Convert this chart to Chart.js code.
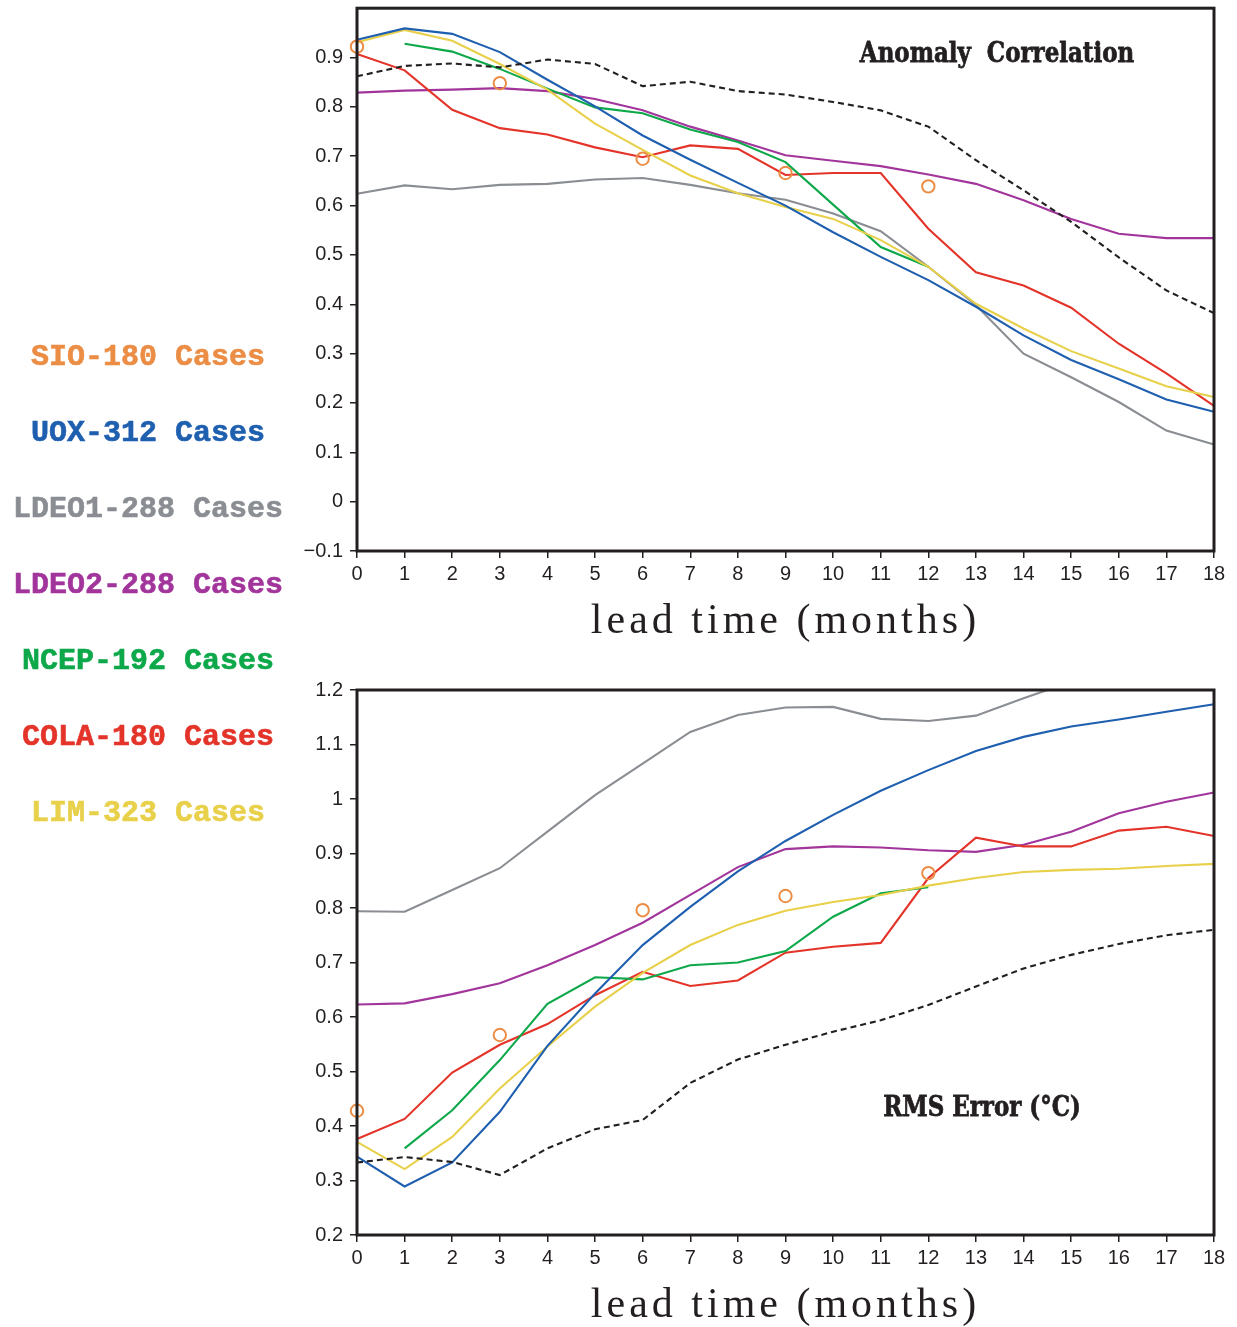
<!DOCTYPE html>
<html><head><meta charset="utf-8">
<script src="https://cdn.jsdelivr.net/npm/chart.js@4/dist/chart.umd.min.js"></script>
<style>
html,body{margin:0;padding:0;background:#fff;}
#wrap{position:relative;width:1237px;height:1327px;overflow:hidden;background:#fff;}
canvas{position:absolute;left:0;}
.leg{position:absolute;left:0;width:296px;text-align:center;font-family:"Liberation Mono",monospace;font-weight:bold;font-size:30px;line-height:36px;white-space:pre;-webkit-text-stroke:0.6px currentColor;}
.xt{position:absolute;left:357px;width:857px;text-align:center;font-family:"Liberation Serif",serif;font-size:42px;letter-spacing:4px;line-height:50px;color:#231f20;white-space:pre;}
.pt{position:absolute;width:400px;text-align:center;font-family:"DejaVu Serif",serif;font-weight:bold;font-size:28px;line-height:34px;transform:scaleX(0.82);transform-origin:center;white-space:pre;color:#231f20;-webkit-text-stroke:0.8px #231f20;}
</style></head>
<body><div id="wrap">
<canvas id="top" width="1237" height="600" style="top:0px;width:1237px;height:600px"></canvas>
<canvas id="bot" width="1237" height="640" style="top:640px;width:1237px;height:640px"></canvas>
<div class="pt" style="left:797px;top:36px">Anomaly  Correlation</div>
<div class="pt" style="left:782px;top:1090px">RMS Error (°C)</div>
<div class="xt" style="top:594px">lead time (months)</div>
<div class="xt" style="top:1278px">lead time (months)</div>
<div id="legend"></div>
</div>
<script>
// ---- data ----
const months = ['0','1','2','3','4','5','6','7','8','9','10','11','12','13','14','15','16','17','18'];
const seriesNames = ['SIO-180 Cases','UOX-312 Cases','LDEO1-288 Cases','LDEO2-288 Cases','NCEP-192 Cases','COLA-180 Cases','LIM-323 Cases'];
const seriesColors = ['#EB8D45','#1F5FAF','#8A8E93','#A2359B','#0DA84A','#E4342A','#E8D04A'];
const persistColor = '#231f20';

const topTicks = [-0.1,0,0.1,0.2,0.3,0.4,0.5,0.6,0.7,0.8,0.9];
const topTickLabels = ['\u22120.1','0','0.1','0.2','0.3','0.4','0.5','0.6','0.7','0.8','0.9'];
const botTicks = [0.2,0.3,0.4,0.5,0.6,0.7,0.8,0.9,1.0,1.1,1.2];
const botTickLabels = ['0.2','0.3','0.4','0.5','0.6','0.7','0.8','0.9','1','1.1','1.2'];

// Anomaly correlation
const acSIO   = [0.922,null,null,0.848,null,null,0.695,null,null,0.666,null,null,0.639,null,null,null,null,null,null];
const acUOX   = [0.936,0.959,0.948,0.911,0.855,0.801,0.742,0.693,0.646,0.600,0.546,0.496,0.449,0.395,0.337,0.287,0.248,0.207,0.182];
const acLDEO1 = [0.624,0.641,0.633,0.642,0.644,0.653,0.656,0.642,0.625,0.612,0.584,0.548,0.476,0.398,0.300,0.252,0.202,0.144,0.116];
const acLDEO2 = [0.829,0.833,0.835,0.838,0.832,0.816,0.793,0.760,0.732,0.702,0.691,0.680,0.663,0.644,0.611,0.573,0.543,0.534,0.534];
const acNCEP  = [null,0.928,0.912,0.877,0.837,0.799,0.787,0.754,0.729,0.688,0.602,0.516,0.476,null,null,null,null,null,null];
const acCOLA  = [0.907,0.874,0.794,0.757,0.744,0.718,0.698,0.722,0.715,0.662,0.666,0.666,0.553,0.465,0.438,0.393,0.320,0.260,0.194];
const acLIM   = [0.931,0.956,0.934,0.887,0.835,0.766,0.713,0.661,0.625,0.597,0.573,0.530,0.476,0.401,0.351,0.305,0.270,0.234,0.212];
const acPersist = [0.862,0.883,0.888,0.880,0.896,0.887,0.842,0.851,0.832,0.825,0.810,0.793,0.760,0.692,0.631,0.567,0.495,0.428,0.382];

// RMS error
const rmsSIO   = [0.428,null,null,0.567,null,null,0.796,null,null,0.822,null,null,0.864,null,null,null,null,null,null];
const rmsUOX   = [0.344,0.289,0.333,0.426,0.547,0.643,0.732,0.802,0.867,0.923,0.971,1.015,1.053,1.088,1.114,1.133,1.146,1.160,1.174];
const rmsLDEO1 = [0.794,0.793,0.833,0.873,0.940,1.007,1.065,1.123,1.154,1.168,1.169,1.147,1.143,1.153,1.185,1.215,null,null,null];
const rmsLDEO2 = [0.623,0.625,0.642,0.662,0.695,0.732,0.773,0.824,0.875,0.908,0.913,0.911,0.906,0.903,0.916,0.940,0.974,0.995,1.012];
const rmsNCEP  = [null,0.359,0.429,0.521,0.624,0.673,0.669,0.695,0.700,0.721,0.784,0.827,0.838,null,null,null,null,null,null];
const rmsCOLA  = [0.376,0.413,0.498,0.549,0.587,0.640,0.683,0.657,0.667,0.718,0.729,0.736,0.855,0.929,0.913,0.913,0.942,0.949,0.932];
const rmsLIM   = [0.371,0.321,0.380,0.469,0.546,0.619,0.681,0.732,0.769,0.795,0.811,0.824,0.841,0.855,0.866,0.870,0.872,0.877,0.881];
const rmsPersist = [0.333,0.343,0.334,0.310,0.359,0.394,0.411,0.479,0.522,0.549,0.573,0.594,0.622,0.656,0.689,0.714,0.734,0.750,0.760];

// ---- legend (HTML text) ----
const legEl = document.getElementById('legend');
seriesNames.forEach((n,i)=>{
  const d = document.createElement('div');
  d.className='leg'; d.textContent=n; d.style.color=seriesColors[i];
  d.style.top = (339 + 76*i) + 'px';
  legEl.appendChild(d);
});

// ---- charts ----
const frame = {
  id:'frame',
  afterDatasetsDraw(chart){
    const {ctx, chartArea:a} = chart;
    ctx.save();
    ctx.strokeStyle='#231f20';
    ctx.lineWidth=3;
    ctx.strokeRect(a.left, a.top, a.right-a.left, a.bottom-a.top);
    ctx.restore();
  }
};

function ln(data, color, extra){
  return Object.assign({data, borderColor:color, backgroundColor:color, borderWidth:2.1, pointRadius:0, tension:0, fill:false, spanGaps:false}, extra||{});
}
function sio(data){
  return {data, showLine:false, pointRadius:6.2, pointHoverRadius:6.2, pointBorderWidth:2,
    pointBorderColor:seriesColors[0], pointBackgroundColor:'rgba(255,255,255,0)', borderColor:seriesColors[0]};
}

function makeChart(id, sets, yMin, yMax, ticks, labels, padTop, xHeight){
  return new Chart(document.getElementById(id), {
    type:'line',
    data:{labels:months, datasets:sets},
    options:{
      responsive:false, animation:false, events:[],
      layout:{padding:{top:padTop, right:23, left:0, bottom:0}},
      plugins:{legend:{display:false}, tooltip:{enabled:false}},
      scales:{
        x:{type:'category', offset:false,
          grid:{drawOnChartArea:false, drawTicks:true, tickLength:7, color:'#231f20', lineWidth:1.5},
          border:{display:false},
          ticks:{autoSkip:false, maxRotation:0, padding:4, color:'#231f20', font:{family:'"Liberation Sans", Arial, sans-serif', size:20}},
          afterFit(s){ s.height = xHeight; s.paddingLeft = 0; s.paddingRight = 0; }
        },
        y:{type:'linear', min:yMin, max:yMax,
          grid:{drawOnChartArea:false, drawTicks:true, tickLength:7, color:'#231f20', lineWidth:1.5},
          border:{display:false},
          afterBuildTicks(s){ s.ticks = ticks.map(v=>({value:v})); },
          ticks:{autoSkip:false, padding:7, color:'#231f20', font:{family:'"Liberation Sans", Arial, sans-serif', size:20},
            callback:(v,i)=>labels[i]},
          afterFit(s){ s.width = 357; s.paddingTop = 0; s.paddingBottom = 0; }
        }
      }
    },
    plugins:[frame]
  });
}

const dash = {borderDash:[6,4]};
makeChart('top', [
  sio(acSIO),
  ln(acPersist, persistColor, dash),
  ln(acUOX, seriesColors[1]),
  ln(acLIM, seriesColors[6]),
  ln(acNCEP, seriesColors[4]),
  ln(acCOLA, seriesColors[5]),
  ln(acLDEO2, seriesColors[3]),
  ln(acLDEO1, seriesColors[2])
], -0.1, 1.0, topTicks, topTickLabels, 8, 49);

makeChart('bot', [
  sio(rmsSIO),
  ln(rmsPersist, persistColor, dash),
  ln(rmsUOX, seriesColors[1]),
  ln(rmsLIM, seriesColors[6]),
  ln(rmsNCEP, seriesColors[4]),
  ln(rmsCOLA, seriesColors[5]),
  ln(rmsLDEO2, seriesColors[3]),
  ln(rmsLDEO1, seriesColors[2])
], 0.2, 1.2, botTicks, botTickLabels, 50, 45);
</script>
</body></html>
